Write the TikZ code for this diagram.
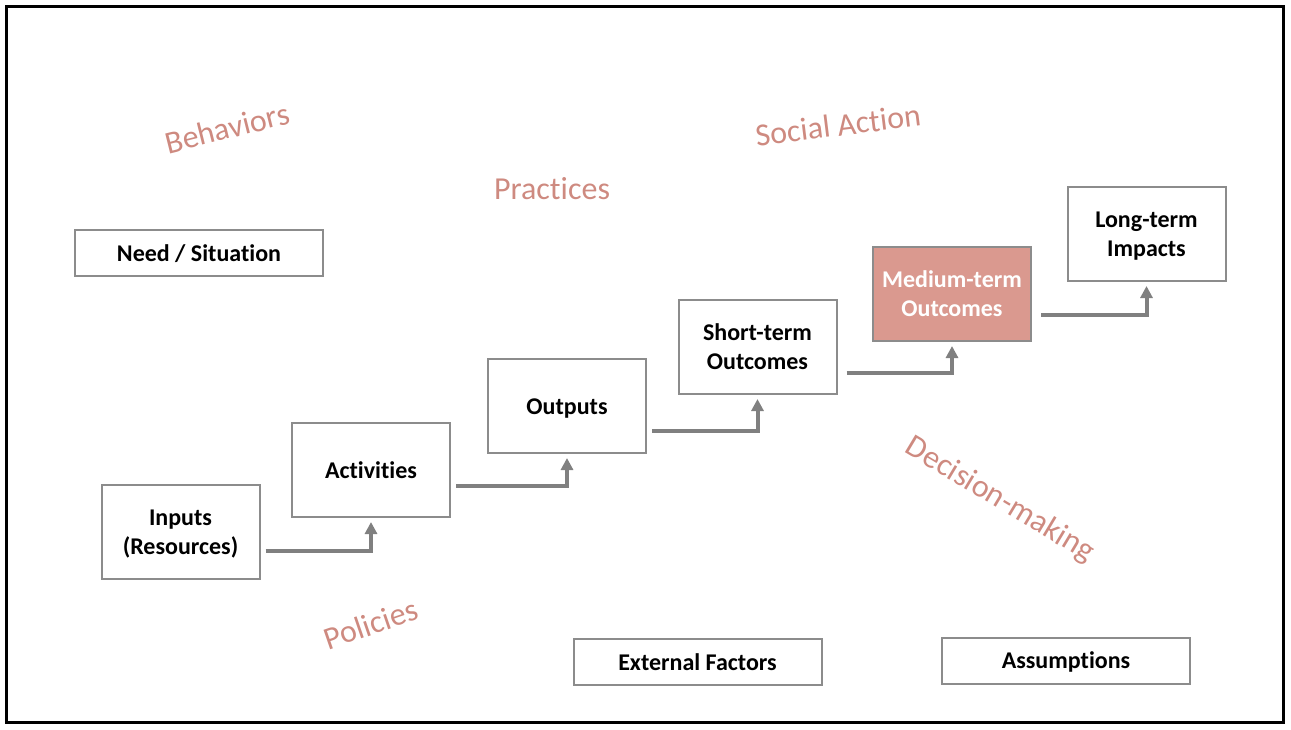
\documentclass[tikz,border=0pt]{standalone}
\usepackage{fontspec}
\setmainfont{Carlito}[Ligatures=NoCommon]
\usetikzlibrary{arrows.meta,calc}
\definecolor{artred}{RGB}{206,138,128}
\definecolor{midfill}{RGB}{218,153,143}
\definecolor{boxline}{RGB}{140,140,140}
\definecolor{flowgray}{RGB}{128,128,128}
% box text sits a little below the middle
\newcommand{\boxtext}[1]{\raisebox{-2pt}[\height][\depth]{\begin{tabular}{@{}c@{}}#1\end{tabular}}}

\begin{document}
\begin{tikzpicture}[x=0.75pt,y=-0.75pt,
		box/.style={draw=boxline, line width=1.5pt, fill=white, minimum width=118.5pt, minimum height=70.5pt, inner sep=0pt, align=center, font=\bfseries\fontsize{18}{21.75}\selectfont},
		widebox/.style={box, minimum width=186pt, minimum height=34.5pt},
		flow/.style={draw=flowgray, line width=3pt, -{Triangle[length=9pt,width=9pt]}},
		wordart/.style={text=artred, inner sep=0pt, font=\fontsize{24}{28}\selectfont}]
		%%%%% FRAME %%%%%
		\useasboundingbox (0,0) rectangle (1291,729);
		\draw[line width=2.25pt] (6.5,6.5) rectangle (1283,722.5);
		
		%%%%% BACKGROUND WORDS %%%%%
		\node[wordart, rotate=14] (beh) at (227,128) {Behaviors};
		\node[wordart] (prac) at (552,189) {Practices};
		\node[wordart, rotate=7] (soc) at (838,125) {Social Action};
		\node[wordart, rotate=-31] (dec) at (1000,500) {Decision-making};
		\node[wordart, rotate=19] (pol) at (371,624) {Policies};
		
		%%%%% BOXES %%%%%
		\node[widebox] (need) at (199,253) {\boxtext{Need / Situation}};
		\node[box] (inp) at (180.5,532) {\boxtext{Inputs\\(Resources)}};
		\node[box] (act) at (371,470) {\boxtext{Activities}};
		\node[box] (outp) at (567,406) {\boxtext{Outputs}};
		\node[box] (short) at (757.5,347) {\boxtext{Short-term\\Outcomes}};
		\node[box, fill=midfill, text=white] (med) at (952,294) {\boxtext{Medium-term\\Outcomes}};
		\node[box] (long) at (1146.5,234) {\boxtext{Long-term\\Impacts}};
		\node[widebox] (ext) at (697.5,662) {\boxtext{External Factors}};
		\node[widebox] (assum) at (1066,660.5) {\boxtext{Assumptions}};
		
		%%%%% STEPS %%%%%
		\draw[flow] ($(inp.east)+(5,19)$) -| ([yshift=-3pt]act.south);
		\draw[flow] ($(act.east)+(5,16)$) -| ([yshift=-3pt]outp.south);
		\draw[flow] ($(outp.east)+(5,25)$) -| ([yshift=-3pt]short.south);
		\draw[flow] ($(short.east)+(9,26)$) -| ([yshift=-3pt]med.south);
		\draw[flow] ($(med.east)+(9,21)$) -| ([yshift=-3pt]long.south);
\end{tikzpicture}
\end{document}
